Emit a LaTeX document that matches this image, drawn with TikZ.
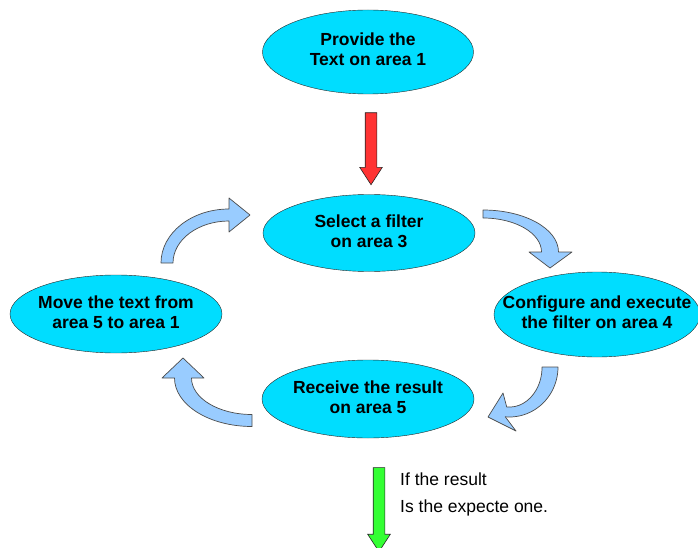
\documentclass[tikz,border=0pt]{standalone}
\usepackage{fontspec}
\setmainfont{Liberation Sans}
\usetikzlibrary{shapes.geometric,shapes.arrows,calc}
\definecolor{ovalfill}{RGB}{0,221,255}
\definecolor{turnfill}{RGB}{153,204,255}
\definecolor{startfill}{RGB}{255,51,51}
\definecolor{endfill}{RGB}{51,255,51}
\newcommand{\ovaltext}[1]{\makebox[0pt]{\begin{tabular}{@{}c@{}}#1\end{tabular}}}
\tikzset{
    oval/.style={ellipse, draw=black!85, fill=ovalfill, inner sep=0pt, minimum width=212pt, minimum height=78pt, font=\bfseries\fontsize{17.5}{20}\selectfont},
    turnarrow/.style={draw=black!70, fill=turnfill, line width=0.7pt, line join=round},
    blockarrow/.style={single arrow, draw=black!85, line width=0.6pt, inner sep=5.5pt, single arrow head extend=5.5pt, single arrow tip angle=66}
}

\begin{document}
\begin{tikzpicture}[x=1pt, y=1pt]
    \useasboundingbox (0,0) rectangle (698,547);
    \node[oval, minimum width=211pt, minimum height=84pt] (provide) at (368,495) {\ovaltext{Provide the\\Text on area 1}};
    \node[oval, minimum height=77pt] (select) at (369,314) {\ovaltext{Select a filter\\on area 3}};
    \node[oval] (move) at (116,233) {\ovaltext{Move the text from\\area 5 to area 1}};
    \node[oval, minimum width=206pt, minimum height=85pt] (configure) at (597,232.5) {\ovaltext{Configure and execute\\the filter on area 4}};
    \node[oval] (receive) at (368,148) {\ovaltext{Receive the result\\on area 5}};
    \node[blockarrow, fill=startfill, minimum height=72pt, rotate=-90] (start) at ($(provide.south)!0.5!(select.north)+(2.5,0)$) {};
    \node[blockarrow, fill=endfill, minimum height=84pt, rotate=-90] (done) at ($(receive.south)+(11,-67)$) {};
    \node[anchor=north west, inner sep=0pt, align=left, font=\fontsize{17.5}{27}\selectfont] (note) at ($(done.center)+(21,33)$) {If the result\\Is the expecte one.};
    \draw[turnarrow] (161,284) arc[start angle=180, end angle=90, x radius=68pt, y radius=54pt] -- (229,349) -- (250,332) -- (229,315) -- (229,326) arc[start angle=90, end angle=180, x radius=56pt, y radius=42pt] -- cycle;
    \draw[turnarrow] (483,337) arc[start angle=90, end angle=0, x radius=75.5pt, y radius=42pt] -- (572,295) -- (550,279) -- (529,295) -- (541.5,295) arc[start angle=0, end angle=90, x radius=58.5pt, y radius=34pt] -- cycle;
    \draw[turnarrow] (558,180) arc[start angle=0, end angle=-95, x radius=48.5pt, y radius=50pt] -- (516,116) -- (488,130) -- (503,154) -- (506.7,140.1) arc[start angle=-95, end angle=0, x radius=32.5pt, y radius=40pt] -- cycle;
    \draw[turnarrow] (252,120.5) arc[start angle=270, end angle=180, x radius=77.5pt, y radius=48.5pt] -- (162,169) -- (183,189) -- (204,169) -- (191.5,169) arc[start angle=180, end angle=270, x radius=60.5pt, y radius=36.5pt] -- cycle;
\end{tikzpicture}
\end{document}
